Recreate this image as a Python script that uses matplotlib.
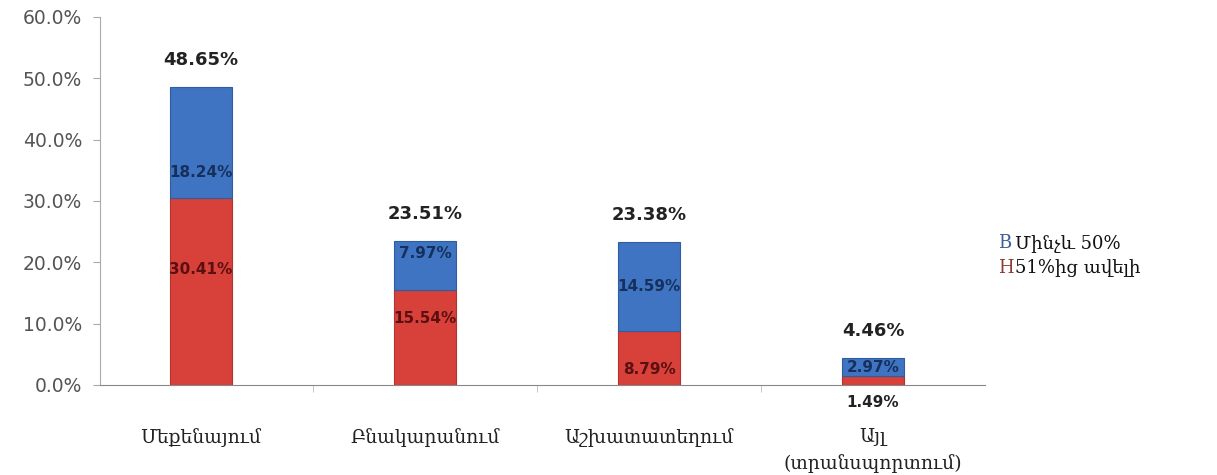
import matplotlib
matplotlib.use("Agg")
import matplotlib.pyplot as plt
import numpy as np

categories = ["Մեքենայում", "Բնակարանում", "Աշխատատեղում", "Այլ\n(տրանսպորտում)"]
above51 = [30.41, 15.54, 8.79, 1.49]
upto50 = [18.24, 7.97, 14.59, 2.97]
totals = [48.65, 23.51, 23.38, 4.46]
legend_labels = ["Մինչև 50%", "51%ից ավելի"]
yticks = [0, 10, 20, 30, 40, 50, 60]

# label placement (style)
blue_label_y = [34.7, 21.4, 16.0, 2.8]
red_label_y = [18.75, 10.9, 2.45, -2.8]

RED = "#d8403a"
BLUE = "#3f74c2"

W, H = 1217, 475
fig = plt.figure(figsize=(W / 100, H / 100), dpi=100)
ax = fig.add_axes([100 / W, (H - 385) / H, (985 - 100) / W, 368 / H])

x = np.arange(len(categories))
bw = 62 / 224
ax.bar(x, above51, width=bw, color=RED, edgecolor="#b03530", linewidth=0.8)
ax.bar(x, upto50, width=bw, bottom=above51, color=BLUE, edgecolor="#2f5d9e", linewidth=0.8)

ax.set_xlim(-0.451, 3.5)
ax.set_ylim(0, 60)
ax.set_yticks(yticks)
ax.set_yticklabels([f"{v:.1f}%" for v in yticks], fontsize=13.5, color="#555555")
ax.set_xticks(x)
ax.set_xticklabels(categories, fontsize=13.5, family=["DejaVu Serif", "DejaVu Sans"],
                   color="#222222", linespacing=1.55)
ax.set_xticks([0.5, 1.5, 2.5], minor=True)
ax.tick_params(axis="x", which="major", length=0, pad=31)
ax.tick_params(axis="x", which="minor", length=5, color="#bbbbbb")
ax.tick_params(axis="y", length=5, color="#aaaaaa", pad=8)

for s in ["top", "right"]:
    ax.spines[s].set_visible(False)
ax.spines["left"].set_color("#aaaaaa")
ax.spines["bottom"].set_color("#888888")

for i in range(len(categories)):
    ax.annotate(f"{totals[i]:.2f}%", (x[i], totals[i]), xytext=(0, 19),
                textcoords="offset points", ha="center", va="center",
                fontsize=13, fontweight="bold", color="#222222")
    ax.text(x[i], blue_label_y[i], f"{upto50[i]:.2f}%", ha="center", va="center",
            fontsize=11, fontweight="bold", color="#16305c")
    ax.text(x[i], red_label_y[i], f"{above51[i]:.2f}%", ha="center", va="center",
            fontsize=11, fontweight="bold", color="#5a1010" if i < 3 else "#222222",
            clip_on=False)

# legend
fig.text(998 / W, 1 - 243 / H, "B", color="#3a5f96", fontsize=13,
         family=["DejaVu Serif"], va="center", ha="left")
fig.text(1015 / W, 1 - 243 / H, legend_labels[0], color="#111111", fontsize=13,
         family=["DejaVu Serif", "DejaVu Sans"], va="center", ha="left")
fig.text(998 / W, 1 - 268 / H, "H", color="#8e3a32", fontsize=13,
         family=["DejaVu Serif"], va="center", ha="left")
fig.text(1015 / W, 1 - 268 / H, legend_labels[1], color="#111111", fontsize=13,
         family=["DejaVu Serif", "DejaVu Sans"], va="center", ha="left")

fig.savefig("out.png", dpi=100)
